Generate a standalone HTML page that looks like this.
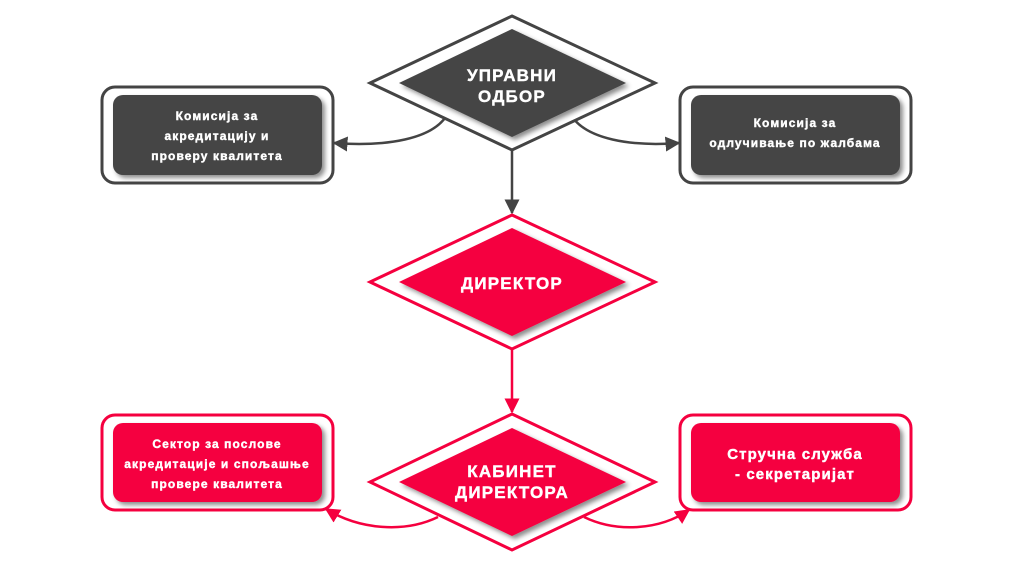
<!DOCTYPE html>
<html><head><meta charset="utf-8"><style>
html,body{margin:0;padding:0;background:#fff;}
svg{display:block;}
text{font-family:"Liberation Sans",sans-serif;font-weight:bold;fill:#fff;text-anchor:middle;stroke:#fff;stroke-width:0.4;}
.s{letter-spacing:1.1px;}
.b{letter-spacing:1.2px;}
</style></head><body>
<svg width="1024" height="565" viewBox="0 0 1024 565" xmlns="http://www.w3.org/2000/svg">
<defs>
<filter id="sh" x="-20%" y="-20%" width="140%" height="140%"><feDropShadow dx="3" dy="3" stdDeviation="2.5" flood-color="#000" flood-opacity="0.45"/></filter>
<marker id="ad" viewBox="0 0 10 10" refX="9" refY="5" markerWidth="6" markerHeight="6" orient="auto"><path d="M0,0 L10,5 L0,10 z" fill="#444"/></marker>
<marker id="ar" viewBox="0 0 10 10" refX="9" refY="5" markerWidth="6" markerHeight="6" orient="auto"><path d="M0,0 L10,5 L0,10 z" fill="#f5003f"/></marker>
</defs>

<line x1="512" y1="150" x2="512" y2="213" stroke="#444" stroke-width="2.5" marker-end="url(#ad)"/>
<path d="M445,118 C430,138 390,147 334,143" fill="none" stroke="#444" stroke-width="2.5" marker-end="url(#ad)"/>
<path d="M573,118 C588,138 628,147 679,143" fill="none" stroke="#444" stroke-width="2.5" marker-end="url(#ad)"/>
<line x1="512" y1="349" x2="512" y2="412" stroke="#f5003f" stroke-width="2.5" marker-end="url(#ar)"/>
<path d="M438,517 C405,533 360,530 326,509" fill="none" stroke="#f5003f" stroke-width="2.5" marker-end="url(#ar)"/>
<path d="M584,517 C617,533 660,530 689,510" fill="none" stroke="#f5003f" stroke-width="2.5" marker-end="url(#ar)"/>

<polygon points="512,16 655,83 512,150 370,83" fill="#fff" stroke="#444" stroke-width="3"/>
<polygon points="512,29 626,83 512,137 399,83" fill="#444" filter="url(#sh)"/>
<text class="b" x="512" y="81" font-size="17">УПРАВНИ</text>
<text class="b" x="512" y="102" font-size="17">ОДБОР</text>

<rect x="102" y="87" width="231" height="96" rx="13" fill="#fff" stroke="#444" stroke-width="3"/>
<rect x="113" y="95" width="209" height="80" rx="10" fill="#444" filter="url(#sh)"/>
<text class="s" x="217" y="120" font-size="12">Комисија за</text>
<text class="s" x="217" y="140" font-size="12">акредитацију и</text>
<text class="s" x="217" y="160" font-size="12">проверу квалитета</text>

<rect x="680" y="87" width="231" height="96" rx="13" fill="#fff" stroke="#444" stroke-width="3"/>
<rect x="691" y="95" width="209" height="80" rx="10" fill="#444" filter="url(#sh)"/>
<text class="s" x="795" y="127" font-size="12">Комисија за</text>
<text class="s" x="795" y="147" font-size="12">одлучивање по жалбама</text>

<polygon points="512,215 655,282 512,349 370,282" fill="#fff" stroke="#f5003f" stroke-width="3"/>
<polygon points="512,228 626,282 512,336 399,282" fill="#f5003f" filter="url(#sh)"/>
<text class="b" x="512" y="289" font-size="17">ДИРЕКТОР</text>

<polygon points="512,414 655,482 512,550 370,482" fill="#fff" stroke="#f5003f" stroke-width="3"/>
<polygon points="512,428 626,482 512,536 399,482" fill="#f5003f" filter="url(#sh)"/>
<text class="b" x="512" y="477" font-size="17">КАБИНЕТ</text>
<text class="b" x="512" y="498" font-size="17">ДИРЕКТОРА</text>

<rect x="102" y="415" width="231" height="95" rx="13" fill="#fff" stroke="#f5003f" stroke-width="3"/>
<rect x="113" y="423" width="209" height="79" rx="10" fill="#f5003f" filter="url(#sh)"/>
<text class="s" x="217" y="448" font-size="12">Сектор за послове</text>
<text class="s" x="217" y="468" font-size="12">акредитације и спољашње</text>
<text class="s" x="217" y="488" font-size="12">провере квалитета</text>

<rect x="680" y="415" width="231" height="95" rx="13" fill="#fff" stroke="#f5003f" stroke-width="3"/>
<rect x="691" y="423" width="209" height="79" rx="10" fill="#f5003f" filter="url(#sh)"/>
<text class="s" x="795" y="459" font-size="15">Стручна служба</text>
<text class="s" x="795" y="479" font-size="15">- секретаријат</text>
</svg>
</body></html>
